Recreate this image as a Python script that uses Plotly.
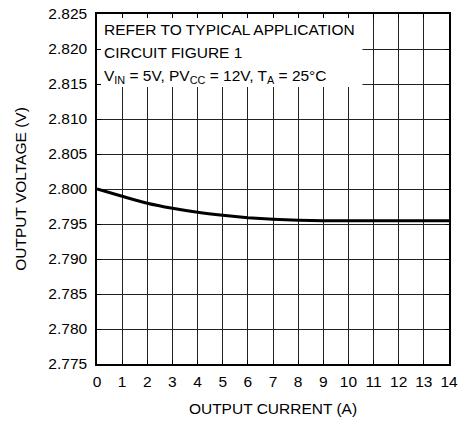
import plotly.graph_objects as go

current_a = [0, 1, 2, 3, 4, 5, 6, 7, 8, 9, 10, 11, 12, 13, 14]
voltage_v = [2.8000, 2.79896, 2.79796, 2.79724, 2.79667, 2.79624, 2.7959, 2.79567,
             2.79553, 2.79548, 2.79548, 2.79548, 2.79548, 2.79548, 2.79548]

x_ticks = list(range(0, 15))
y_ticks = [2.775, 2.780, 2.785, 2.790, 2.795, 2.800, 2.805, 2.810, 2.815, 2.820, 2.825]

note_lines = [
    "REFER TO TYPICAL APPLICATION",
    "CIRCUIT FIGURE 1",
    "V<sub>IN</sub> = 5V, PV<sub>CC</sub> = 12V, T<sub>A</sub> = 25°C",
]
note_y = [2.82279, 2.81943, 2.81614]

FONT = "Liberation Sans, Arial, Helvetica, sans-serif"
FS = 15.5

fig = go.Figure()
fig.add_trace(go.Scatter(
    x=current_a, y=voltage_v, mode="lines",
    line=dict(color="black", width=3, shape="spline", smoothing=0.6),
    showlegend=False, hoverinfo="skip",
))

fig.add_shape(type="rect", xref="x", yref="y", x0=0, x1=10.56, y0=2.81457, y1=2.825,
              fillcolor="white", line=dict(width=0), layer="between")

for txt, yy in zip(note_lines, note_y):
    fig.add_annotation(x=0.2, y=yy, xref="x", yref="y", text=txt, showarrow=False,
                       xanchor="left", yanchor="middle",
                       font=dict(family=FONT, size=FS, color="black"))

fig.update_layout(
    width=467, height=417,
    margin=dict(l=89, r=26, t=6, b=61, autoexpand=False),
    paper_bgcolor="white", plot_bgcolor="white",
    font=dict(family=FONT, size=FS, color="black"),
)
fig.update_xaxes(
    range=[0, 14], tickmode="linear", tick0=0, dtick=1,
    showgrid=True, gridcolor="#222222", gridwidth=1,
    showline=True, linecolor="black", linewidth=1.5, mirror="ticks",
    ticks="inside", ticklen=4, tickcolor="black", ticklabeloverflow="allow",
    ticklabelstandoff=3, automargin=True,
    zeroline=False,
    title=dict(text="OUTPUT CURRENT (A)", font=dict(size=FS), standoff=14),
)
fig.update_yaxes(
    range=[2.775, 2.825], tickmode="array", tickvals=y_ticks,
    ticktext=[f"{v:.3f}" for v in y_ticks],
    showgrid=True, gridcolor="#222222", gridwidth=1,
    showline=True, linecolor="black", linewidth=1.5, mirror="ticks",
    ticks="inside", ticklen=4, tickcolor="black", ticklabelstandoff=5,
    ticklabeloverflow="allow", automargin=False,
    zeroline=False,
    title=dict(text="OUTPUT VOLTAGE (V)", font=dict(size=FS), standoff=18),
)

fig.write_html("out.html")
